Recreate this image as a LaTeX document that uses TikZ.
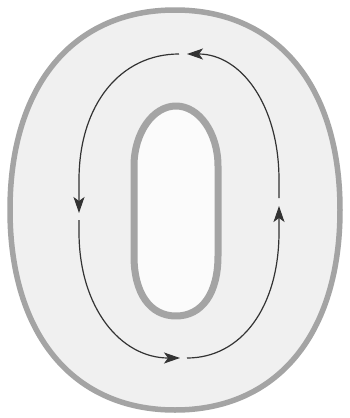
\documentclass[tikz,border=0pt]{standalone}
\usetikzlibrary{arrows.meta}
\definecolor{rimgray}{HTML}{A4A4A4}
\definecolor{bodyfill}{HTML}{F0F0F0}
\definecolor{holefill}{HTML}{FBFBFB}
\definecolor{flowink}{HTML}{333333}
\begin{document}
\begin{tikzpicture}[x=1pt,y=-1pt,
  rim/.style={draw=rimgray,line join=round},
  flow/.style={draw=flowink,line width=1.2pt,-{Stealth[length=16pt,width=11pt,inset=4pt]}}]
\useasboundingbox (0,0) rectangle (350,418);
\fill[white] (0,0) rectangle (350,418);
% outer body of the zero
\path[rim,fill=bodyfill,line width=5.5pt]
  (340,210) .. controls (340,86) and (277.3,10) .. (175,10)
  .. controls (72.7,10) and (10,86) .. (10,210)
  .. controls (10,334) and (72.7,410) .. (175,410)
  .. controls (277.3,410) and (340,334) .. (340,210) -- cycle;
% inner hole
\path[rim,fill=holefill,line width=7pt]
  (134,166) .. controls (134,133) and (152.9,106) .. (176,106)
  .. controls (199.1,106) and (218,133) .. (218,166) -- (218,256)
  .. controls (218,293.2) and (202,316) .. (176,316)
  .. controls (150,316) and (134,293.2) .. (134,256) -- cycle;
% gap points of the circulating loop
\coordinate (T) at (183,54);
\coordinate (L) at (79,216.5);
\coordinate (B) at (183.5,358);
\coordinate (R) at (279,202);
\draw[flow,shorten <=4pt,shorten >=4pt]
  (R) -- (279,180) .. controls (279,104.4) and (240.6,54) .. (T);
\draw[flow,shorten <=4pt,shorten >=3.5pt]
  (T) .. controls (120.6,54) and (79,104.4) .. (79,180) -- (L);
\draw[flow,shorten <=3.5pt,shorten >=3.5pt]
  (L) -- (79,232) .. controls (79,307.6) and (120.6,358) .. (B);
\draw[flow,shorten <=3.5pt,shorten >=4pt]
  (B) .. controls (241,358) and (279,307.6) .. (279,232) -- (R);
\end{tikzpicture}
\end{document}
